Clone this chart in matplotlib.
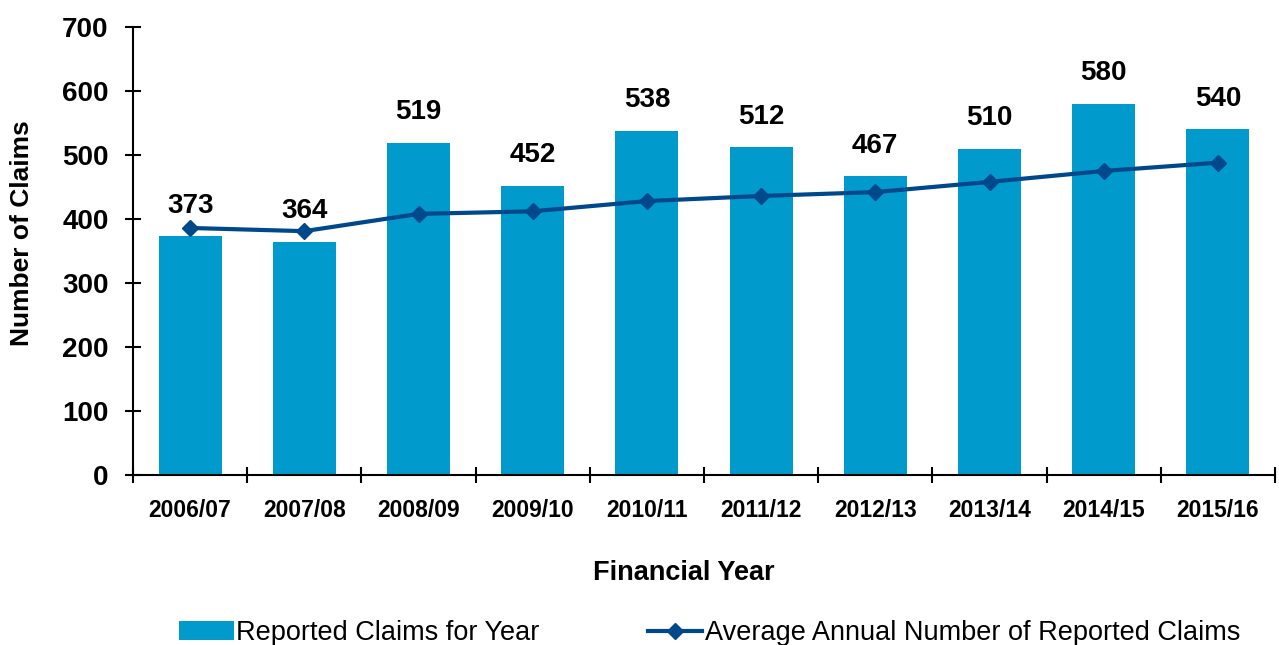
import matplotlib.pyplot as plt
import numpy as np

# financial years and claim counts
years = ["2006/07", "2007/08", "2008/09", "2009/10", "2010/11",
         "2011/12", "2012/13", "2013/14", "2014/15", "2015/16"]
reported = [373, 364, 519, 452, 538, 512, 467, 510, 580, 540]
average = [386, 381, 408, 412, 428, 436, 442, 458, 475, 488]

bar_col = "#009ACD"
line_col = "#00488C"

plt.rcParams['font.family'] = ['Liberation Sans', 'DejaVu Sans']

fig = plt.figure(figsize=(12.79, 6.45), dpi=100)
ax = fig.add_axes([133/1279, 1 - 475/645, (1275-133)/1279, (475-27)/645])

x = np.arange(len(years))
bars = ax.bar(x, reported, width=0.55, color=bar_col, label="Reported Claims for Year", zorder=2)
line, = ax.plot(x, average, color=line_col, lw=3, marker='D', ms=8, zorder=3,
                label="Average Annual Number of Reported Claims")

for xi, v in zip(x, reported):
    ax.annotate(str(v), xy=(xi, v), xytext=(0, 22), textcoords='offset points',
                ha='center', va='center', fontsize=20, fontweight='bold')

ax.set_xlim(-0.5, len(years) - 0.5)
ax.set_ylim(0, 700)
ax.set_yticks(range(0, 701, 100))
ax.set_xticks(x)
ax.set_xticklabels(years, fontsize=16.5, fontweight='bold')
ax.set_xticks(np.arange(-0.5, len(years)), minor=True)
ax.tick_params(axis='x', which='major', length=0, pad=17)
ax.tick_params(axis='x', which='minor', direction='inout', length=11, width=1.5)
ax.tick_params(axis='y', direction='inout', length=11, width=1.5, labelsize=20, pad=12)
for lab in ax.get_yticklabels():
    lab.set_fontweight('bold')

for s in ['top', 'right']:
    ax.spines[s].set_visible(False)
ax.spines['left'].set_linewidth(1.5)
ax.spines['bottom'].set_linewidth(1.5)

ax.set_ylabel("Number of Claims", fontsize=19, fontweight='bold')
ax.yaxis.set_label_coords(-0.0867, 0.54)
ax.set_xlabel("Financial Year", fontsize=19.5, fontweight='bold')
ax.xaxis.set_label_coords(0.4825, -0.19)

fig.legend([bars, line], [bars.get_label(), line.get_label()],
           loc='center', bbox_to_anchor=(0.555, 0.0186), ncol=2, frameon=False,
           fontsize=19.5, handlelength=2, handletextpad=0.1, columnspacing=4.0,
           borderpad=0, borderaxespad=0)

fig.savefig("out.png", dpi=100)
